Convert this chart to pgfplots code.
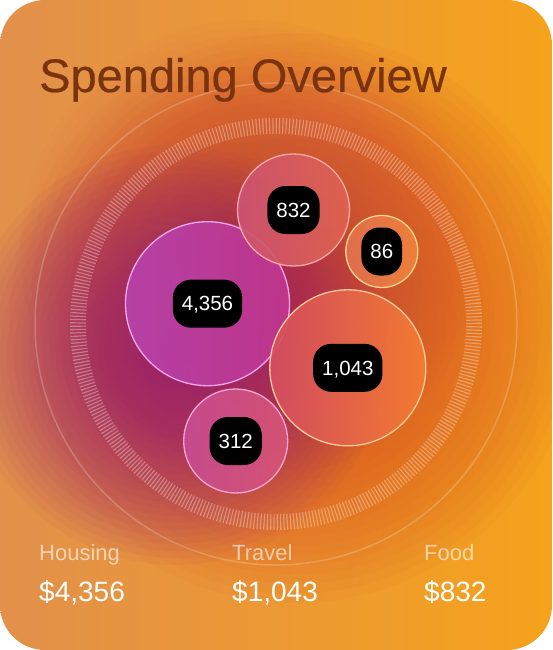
\documentclass[border=0pt]{standalone}
\usepackage{pgfplots}
\pgfplotsset{compat=1.18}
\usepackage{fontspec}
\setmainfont{Liberation Sans}
\newfontfamily\titlefont[FakeBold=0.5]{Liberation Sans}

\definecolor{cardL}{HTML}{E2904B}
\definecolor{cardR}{HTML}{F5A21C}
\definecolor{glowRed}{HTML}{D8471F}
\definecolor{glowPurple}{HTML}{931A84}
\definecolor{glowPink}{HTML}{C03A58}
\definecolor{titleC}{HTML}{7A3311}
% bubbles: left, right, edge
\definecolor{HouL}{HTML}{B743AA}\definecolor{HouR}{HTML}{C0368E}\definecolor{HouE}{HTML}{F7A6F0}
\definecolor{FooL}{HTML}{CC5472}\definecolor{FooR}{HTML}{E0624E}\definecolor{FooE}{HTML}{F7A8A8}
\definecolor{OthL}{HTML}{E2704E}\definecolor{OthR}{HTML}{EF833C}\definecolor{OthE}{HTML}{FFD58A}
\definecolor{TraL}{HTML}{D54E60}\definecolor{TraR}{HTML}{F47C32}\definecolor{TraE}{HTML}{FFCB98}
\definecolor{SmlL}{HTML}{C84C92}\definecolor{SmlR}{HTML}{D65474}\definecolor{SmlE}{HTML}{F9A6D6}

\pgfplotsset{
  bubble/.style n args={4}{draw=none, mark=none, nodes near coords={},
    every node near coord/.append style={circle, anchor=center, inner sep=0pt,
      minimum size=#1, left color=#2, right color=#3, draw=#4, line width=1.3bp, fill opacity=0.93}},
  pill/.style={draw=none, mark=none, nodes near coords={#1},
    every node near coord/.append style={fill=black, text=white, rounded corners=18bp,
      text height=14.5bp, text depth=0bp, inner ysep=16.75bp, inner xsep=9bp, anchor=center,
      font=\fontsize{20.5bp}{20.5bp}\selectfont}},
}

\begin{document}
\begin{tikzpicture}
\begin{axis}[
  width=552bp, height=650bp, scale only axis,
  xmin=0, xmax=552, ymin=0, ymax=650, y dir=reverse,
  hide axis, clip=false,
]
% card background
\shade[rounded corners=45bp, left color=cardL, right color=cardR] (0,0) rectangle (552,650);
\begin{scope}
\clip[rounded corners=45bp] (0,0) rectangle (552,650);
\pgfplotsinvokeforeach{1,...,30}{
  \fill[glowRed, fill opacity=0.052] (295,318) circle[radius={285bp*#1/30}];
}
\pgfplotsinvokeforeach{1,...,30}{
  \fill[glowPink, fill opacity=0.025] (250,250) circle[radius={230bp*#1/30}];
}
\pgfplotsinvokeforeach{1,...,30}{
  \fill[glowPurple, fill opacity=0.048] (175,355) circle[radius={210bp*#1/30}];
}
\end{scope}
% rings
\draw[white, draw opacity=0.2, line width=1.5bp] (276,324) circle[radius=241bp];
\draw[white, draw opacity=0.32, line width=16bp, dash pattern=on 1.2bp off 2.1bp] (276,324) circle[radius=198bp];

% bubbles (x, y of centre; diameter from value scale)
\addplot[bubble={164bp}{HouL}{HouR}{HouE}] coordinates {(207.5,303.7)};
\addplot[bubble={112bp}{FooL}{FooR}{FooE}] coordinates {(293.5,210)};
\addplot[bubble={72bp}{OthL}{OthR}{OthE}] coordinates {(381.8,251.5)};
\addplot[bubble={156bp}{TraL}{TraR}{TraE}] coordinates {(347.8,367.8)};
\addplot[bubble={104bp}{SmlL}{SmlR}{SmlE}] coordinates {(235.7,441)};

% value pills
\addplot[pill={4,356}] coordinates {(207.5,303.7)};
\addplot[pill={832}] coordinates {(293.5,210)};
\addplot[pill={86}] coordinates {(381.8,251.5)};
\addplot[pill={1,043}] coordinates {(347.8,367.8)};
\addplot[pill={312}] coordinates {(235.7,441)};

% title
\node[anchor=base west, inner sep=0pt, text=titleC, font=\titlefont\fontsize{47bp}{47bp}\selectfont] at (39,92) {Spending Overview};

% bottom summary
\node[anchor=base west, inner sep=0pt, text=white, text opacity=0.6, font=\fontsize{22bp}{22bp}\selectfont] at (39,560) {Housing};
\node[anchor=base west, inner sep=0pt, text=white, text opacity=0.6, font=\fontsize{22bp}{22bp}\selectfont] at (232,560) {Travel};
\node[anchor=base west, inner sep=0pt, text=white, text opacity=0.6, font=\fontsize{22bp}{22bp}\selectfont] at (424,560) {Food};
\node[anchor=base west, inner sep=0pt, text=white, font=\fontsize{28bp}{28bp}\selectfont] at (39,601) {\$4,356};
\node[anchor=base west, inner sep=0pt, text=white, font=\fontsize{28bp}{28bp}\selectfont] at (232,601) {\$1,043};
\node[anchor=base west, inner sep=0pt, text=white, font=\fontsize{28bp}{28bp}\selectfont] at (424,601) {\$832};
\end{axis}
\end{tikzpicture}
\end{document}
